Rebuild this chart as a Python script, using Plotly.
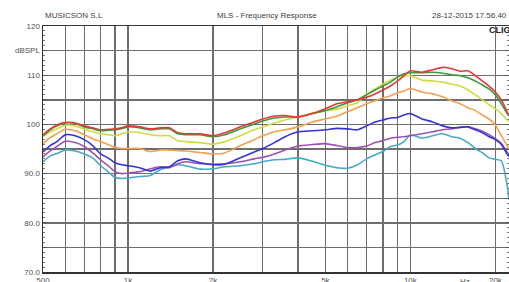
import plotly.graph_objects as go
import numpy as np

freq = [500, 530, 560, 600, 650, 700, 750, 800, 850, 900, 950, 1000, 1100, 1200, 1300, 1400,
        1500, 1600, 1800, 2000, 2200, 2500, 2800, 3000, 3300, 3600, 4000, 4500, 5000, 5500,
        6000, 6500, 7000, 7500, 8000, 8500, 9000, 9500, 10000, 11000, 12000, 13000, 14000,
        15000, 16000, 17000, 18000, 19000, 20000, 21000, 22000, 22350]

red = [97.9, 99.1, 99.9, 100.4, 100.3, 99.7, 99.3, 98.9, 99.0, 99.1, 99.3, 99.7, 99.5, 99.1, 99.3, 99.3,
       98.3, 98.1, 98.1, 97.7, 98.3, 99.5, 100.5, 101.1, 101.7, 101.8, 101.5, 102.2, 103.2, 104.2,
       104.6, 105.0, 105.5, 106.2, 107.0, 107.8, 108.8, 109.9, 110.9, 110.6, 111.1, 111.6, 111.3,
       110.8, 110.9, 109.9, 108.8, 107.8, 106.6, 105.0, 102.6, 101.9]
green = [97.7, 98.9, 99.7, 100.3, 100.2, 99.5, 99.1, 98.7, 98.8, 98.9, 99.1, 99.5, 99.3, 98.9, 99.1, 99.1,
         98.1, 97.9, 97.9, 97.5, 97.9, 99.1, 100.1, 100.7, 101.3, 101.5, 101.5, 102.2, 102.8, 103.6,
         104.4, 105.0, 106.0, 107.0, 107.8, 108.6, 109.6, 110.3, 110.5, 110.5, 110.6, 110.4, 110.1,
         109.9, 109.5, 108.8, 108.0, 107.2, 106.0, 104.2, 102.2, 101.7]
yellow = [97.5, 98.5, 99.1, 99.8, 99.7, 99.0, 98.5, 98.1, 97.9, 97.7, 98.1, 98.5, 98.3, 97.9, 97.7, 97.7,
          96.7, 96.5, 96.3, 96.0, 96.5, 97.7, 98.9, 99.5, 100.3, 100.9, 101.5, 102.3, 102.8, 103.1,
          103.8, 104.4, 106.2, 107.2, 108.2, 109.0, 109.6, 109.9, 109.9, 109.0, 108.8, 108.6, 108.2,
          107.8, 107.0, 106.0, 105.0, 104.0, 103.2, 102.2, 100.9, 100.6]
orange = [96.1, 97.3, 98.1, 99.0, 98.7, 97.9, 97.1, 96.5, 95.9, 95.3, 95.1, 95.1, 95.1, 94.5, 94.8, 94.8,
          94.7, 94.6, 94.3, 94.0, 94.2, 95.7, 96.9, 97.7, 98.5, 98.9, 99.5, 100.5, 101.1, 101.7,
          102.6, 103.4, 104.2, 104.8, 105.4, 105.8, 106.4, 106.8, 107.3, 106.6, 106.2, 105.6, 104.8,
          104.2, 103.4, 102.8, 101.9, 101.1, 99.9, 97.7, 95.7, 94.8]
blue = [94.4, 95.7, 96.5, 97.9, 97.7, 96.9, 95.7, 94.0, 93.2, 92.2, 91.8, 91.6, 91.2, 90.5, 91.2, 91.4,
        92.6, 93.0, 92.2, 91.8, 91.9, 93.2, 94.4, 95.1, 96.3, 97.5, 98.5, 98.7, 98.9, 99.2,
        99.1, 98.9, 99.7, 100.5, 100.9, 101.3, 101.4, 101.9, 102.2, 101.1, 100.5, 99.7, 99.3,
        99.4, 99.5, 98.9, 98.3, 97.5, 96.9, 95.9, 94.0, 93.5]
purple = [93.4, 94.6, 95.5, 96.6, 96.3, 95.5, 94.2, 92.8, 91.6, 90.4, 90.0, 90.1, 90.4, 91.0, 91.4, 91.2,
          92.0, 92.4, 92.0, 91.9, 92.0, 92.4, 93.0, 93.3, 94.0, 94.8, 95.6, 95.9, 96.1, 95.7,
          95.3, 95.3, 95.6, 96.3, 96.7, 97.2, 97.4, 97.5, 97.7, 98.1, 98.5, 98.9, 99.1,
          99.4, 99.5, 99.1, 98.6, 97.9, 97.1, 96.1, 94.4, 93.8]
cyan = [92.4, 93.6, 94.1, 94.8, 94.6, 94.0, 93.2, 91.6, 90.4, 89.2, 89.0, 89.1, 89.4, 89.6, 90.8, 91.3,
        91.8, 91.6, 90.9, 91.0, 91.4, 91.6, 92.0, 92.4, 92.8, 92.9, 93.2, 92.5, 91.7, 91.2,
        91.1, 91.8, 93.0, 93.8, 94.5, 95.5, 95.8, 96.5, 97.9, 97.2, 97.7, 98.1, 97.5,
        97.2, 96.3, 95.1, 94.2, 93.2, 92.9, 92.6, 87.7, 84.7]

series = [
    ("cyan", cyan, "#46a9c9"),
    ("purple", purple, "#9d52b3"),
    ("blue", blue, "#3434d6"),
    ("orange", orange, "#f4a04e"),
    ("yellow", yellow, "#d2da46"),
    ("green", green, "#3a9a3a"),
    ("red", red, "#e63838"),
]

x_tickvals = [500, 600, 700, 800, 900, 1000, 2000, 3000, 4000, 5000, 6000, 7000, 8000, 9000, 10000, 20000]
x_ticktext = ["500", "", "", "", "", "1k", "2k", "", "", "5k", "", "", "", "", "10k", "20k"]
y_tickvals = [70, 75, 80, 85, 90, 95, 100, 105, 110, 115, 120]
y_ticktext = ["70.0", "", "80.0", "", "90.0", "", "100", "", "110", "dBSPL", "120"]

fig = go.Figure()
for name, vals, col in series:
    fig.add_trace(go.Scatter(x=freq, y=vals, mode="lines", name=name,
                             line=dict(color=col, width=1.6, shape="spline", smoothing=0.6),
                             showlegend=False, hoverinfo="skip"))

font = "Liberation Sans, Arial, sans-serif"
grid = "#6e6e6e"
fig.update_layout(
    width=509, height=282,
    margin=dict(l=43, r=0, t=26, b=10),
    paper_bgcolor="white", plot_bgcolor="white",
    font=dict(family=font, size=8, color="#505050"),
    xaxis=dict(type="log", range=[np.log10(500), np.log10(22350)], automargin=False,
               tickvals=x_tickvals, ticktext=x_ticktext,
               showgrid=True, gridcolor=grid, gridwidth=1.4,
               showline=True, linecolor="#333", linewidth=1.5, mirror=True,
               ticks="", tickfont=dict(size=8, color="#505050"), zeroline=False),
    yaxis=dict(range=[70, 120], tickvals=y_tickvals, ticktext=y_ticktext, automargin=False,
               showgrid=True, gridcolor=grid, gridwidth=1.4,
               showline=True, linecolor="#333", linewidth=1.5, mirror="allticks",
               ticks="inside", ticklen=4, tickcolor="#555",
               minor=dict(dtick=1, ticks="inside", ticklen=2, tickcolor="#777", showgrid=False),
               tickfont=dict(size=8, color="#505050"), zeroline=False),
    annotations=[
        dict(text="MUSICSON S.L", xref="paper", yref="paper", x=0.0, y=1.0, yshift=11,
             xanchor="left", yanchor="middle", showarrow=False, font=dict(size=8, color="#404040")),
        dict(text="MLS - Frequency Response", xref="paper", yref="paper", x=(267 - 43) / 466, y=1.0, yshift=11,
             xanchor="center", yanchor="middle", showarrow=False, font=dict(size=8, color="#404040")),
        dict(text="28-12-2015 17.56.40", xref="paper", yref="paper", x=1.0, y=1.0, yshift=11,
             xanchor="right", yanchor="middle", showarrow=False, font=dict(size=8, color="#404040")),
        dict(text="<b>CLIO</b>", xref="paper", yref="paper", x=(487 - 43) / 466, y=1.0, yshift=-4,
             xanchor="left", yanchor="middle", showarrow=False, font=dict(size=9, color="#202020")),
        dict(text="Hz", xref="x", yref="paper", x=np.log10(15600), y=0.0, yshift=-9,
             xanchor="center", yanchor="middle", showarrow=False, font=dict(size=8, color="#505050")),
    ],
)

fig.write_html("out.html", config={"displayModeBar": False, "staticPlot": True},
               post_script="document.body.style.margin='0';document.body.style.overflow='hidden';")
